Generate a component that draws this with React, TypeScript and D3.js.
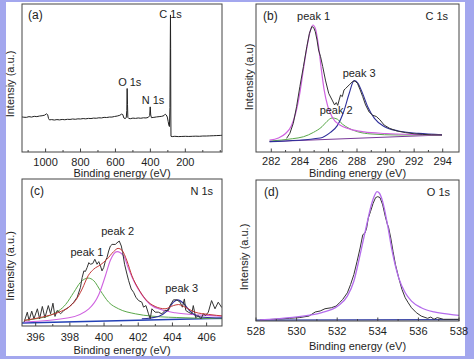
import React from 'react';
import * as d3 from 'd3';

type P = [number, number];

// ---------- (a) survey ----------
const surveyData: P[] = [
  [1135, 23.7], [1125, 23.5], [1110, 23.4], [1095, 23.9], [1080, 23.6], [1065, 24.1], [1050, 23.9], [1035, 24.3], [1020, 24.5],
  [1005, 24.9], [995, 25.8], [988, 25.2], [983, 22.6], [978, 21.7], [965, 21.9], [950, 21.6], [935, 21.9],
  [920, 21.7], [905, 22.0], [890, 21.8], [875, 22.1], [860, 22.0], [845, 22.3], [830, 22.1], [815, 22.4],
  [800, 22.3], [785, 22.6], [770, 22.4], [755, 22.7], [740, 22.6], [725, 22.9], [710, 22.8], [695, 23.1],
  [680, 23.0], [665, 23.4], [650, 23.3], [635, 23.6], [620, 23.6], [605, 24.0], [590, 24.3], [575, 24.8],
  [565, 25.6], [558, 25.3], [552, 23.0], [545, 22.6], [538, 23.2], [535, 28], [533, 42.9], [531, 32],
  [529, 23.4], [524, 22.7], [515, 22.5], [500, 22.9], [485, 22.7], [470, 23.0], [455, 22.8], [440, 23.1],
  [425, 23.0], [412, 23.4], [404, 24.5], [401, 30.5], [398, 25], [394, 23.2], [380, 23.4], [365, 23.7],
  [350, 23.9], [335, 24.1], [322, 24.6], [315, 25.6], [309, 25.0], [303, 23.6], [298, 20.5], [294, 18.0],
  [291, 17.2], [288, 30], [286, 75], [285, 92.6], [284, 70], [283, 25], [282, 10.6], [275, 10.4],
  [260, 10.6], [240, 10.4], [220, 10.5], [200, 10.6], [180, 10.5], [160, 10.6], [140, 10.7], [120, 10.6],
  [100, 10.8], [80, 10.8], [60, 10.9], [40, 11.0], [20, 11.1], [0, 11.2], [-10, 11.3],
];

// ---------- (b) C 1s ----------
const c1sRaw: P[] = [
  [283.07, 9.2], [283.3, 12.6], [283.54, 19.4], [283.77, 30.6], [284.0, 44.1], [284.25, 57.7], [284.49, 71.2],
  [284.67, 80.2], [284.84, 84.7], [284.96, 84.2], [285.08, 81.3], [285.2, 75.7], [285.31, 68.9], [285.45, 64.4],
  [285.6, 57.7], [285.79, 48.6], [286.02, 39.6], [286.26, 35.1], [286.43, 31.8], [286.55, 33.4], [286.65, 31.5],
  [286.75, 35.1], [286.85, 38.5], [286.97, 37.4], [287.09, 41.9], [287.21, 43.0], [287.45, 45.3], [287.68, 47.5],
  [287.85, 48.0], [288.03, 46.4], [288.2, 42.5], [288.4, 37.4], [288.6, 31.8], [288.85, 27.0], [289.1, 24.8],
  [289.35, 24.0], [289.6, 21.8], [289.9, 18.2], [290.3, 15.9], [290.8, 14.2], [291.4, 13.1], [292.0, 12.3],
  [292.6, 11.9], [293.2, 11.6], [293.95, 11.5],
];
const c1sPeak1: P[] = [
  [281.88, 8.0], [282.5, 9.5], [283.0, 12.5], [283.4, 17.5], [283.7, 26], [284.0, 40], [284.25, 56], [284.5, 71],
  [284.72, 81.5], [284.91, 85.8], [285.1, 83.0], [285.3, 72], [285.5, 56], [285.7, 42], [285.95, 31], [286.3, 23],
  [286.8, 18.2], [287.5, 15.5], [288.5, 13.6], [290.0, 12.5], [292.0, 11.8], [293.95, 11.5],
];
const c1sPeak2: P[] = [
  [281.88, 7.4], [283.5, 9.0], [284.25, 10.3], [284.96, 13.3], [285.55, 17.1], [285.9, 20.7], [286.26, 23.0],
  [286.62, 22.2], [286.97, 18.9], [287.44, 16.0], [288.04, 13.7], [288.98, 12.2], [290.88, 11.5], [293.95, 11.5],
];
const c1sPeak3: P[] = [
  [281.88, 7.0], [285.43, 9.5], [286.14, 13.3], [286.62, 17.8], [287.09, 27.9], [287.44, 39.2], [287.8, 48.2],
  [288.04, 46.8], [288.39, 39.6], [288.75, 30.6], [289.22, 22.7], [289.93, 17.1], [290.88, 14.2], [292.3, 12.6],
  [293.95, 11.7],
];
const c1sBackground: P[] = [[281.88, 7.0], [293.95, 11.5]];

// ---------- (c) N 1s ----------
const n1sRaw: P[] = [
  [395.32, 2.7], [395.42, 6.1], [395.51, 9.4], [395.61, 3.8], [395.77, 10.1], [395.9, 4.9], [396.1, 11.7],
  [396.23, 4.9], [396.39, 13.3], [396.54, 5.6], [396.74, 13.9], [396.87, 8.3], [397.01, 15.5], [397.13, 6.5],
  [397.26, 10.6], [397.46, 8.3], [397.65, 10.6], [397.94, 12.8], [398.23, 16.2], [398.43, 19.6], [398.62, 26.3],
  [398.72, 33.0], [398.82, 37.5], [398.91, 37.1], [399.01, 39.8], [399.11, 43.1], [399.2, 42.0], [399.34, 42.5],
  [399.46, 45.4], [399.59, 42.0], [399.69, 43.8], [399.79, 40.9], [399.88, 37.5], [399.98, 39.8], [400.08, 44.3],
  [400.17, 46.5], [400.27, 51.0], [400.37, 54.4], [400.47, 55.5], [400.66, 55.5], [400.76, 56.6], [400.89, 57.8],
  [401.01, 54.4], [401.09, 49.9], [401.2, 42.0], [401.34, 35.3], [401.44, 30.8], [401.59, 25.2], [401.73, 22.9],
  [401.86, 19.6], [402.02, 17.3], [402.21, 16.2], [402.31, 12.8], [402.45, 13.9], [402.6, 8.3], [402.7, 4.9],
  [402.8, 11.7], [402.99, 9.4], [403.18, 9.4], [403.38, 8.3], [403.57, 10.6], [403.77, 10.6], [403.86, 13.9],
  [404.06, 17.8], [404.25, 17.8], [404.45, 16.2], [404.58, 12.8], [404.7, 18.4], [404.78, 10.6], [404.93, 9.4],
  [405.13, 8.3], [405.22, 13.9], [405.36, 5.6], [405.51, 7.2], [405.67, 4.9], [405.81, 8.3], [405.94, 7.2],
  [406.1, 9.4], [406.29, 17.3], [406.49, 11.7], [406.68, 16.2], [406.87, 12.8], [407.07, 13.9],
];
const n1sEnvelope: P[] = [
  [395.32, 3.8], [396.39, 6.1], [397.36, 9.4], [397.94, 12.8], [398.33, 17.3], [398.72, 25.2], [399.07, 34.2],
  [399.4, 38.7], [399.79, 41.6], [400.17, 45.4], [400.56, 50.6], [400.82, 52.8], [401.05, 51.5], [401.34, 44.3],
  [401.63, 34.2], [402.02, 25.2], [402.41, 18.4], [402.99, 13.3], [403.57, 11.7], [404.06, 13.9], [404.35, 14.6],
  [404.74, 12.8], [405.32, 9.4], [406.1, 7.9], [407.07, 6.7],
];
const n1sPeak1: P[] = [
  [395.32, 3.8], [396.0, 4.9], [396.97, 7.9], [397.75, 14.6], [398.23, 22.9], [398.62, 29.7], [399.07, 32.6],
  [399.4, 30.8], [399.79, 24.0], [400.27, 16.2], [400.85, 11.7], [401.83, 8.3], [402.8, 6.7], [404.74, 5.6],
  [407.07, 4.9],
];
const n1sPeak2: P[] = [
  [395.32, 2.7], [397.94, 5.6], [399.11, 11.7], [399.69, 21.3], [400.08, 34.2], [400.37, 44.7], [400.76, 50.6],
  [401.15, 47.6], [401.44, 38.7], [401.83, 28.5], [402.21, 21.3], [402.7, 14.6], [403.38, 11.0], [404.16, 9.0],
  [405.71, 7.4], [407.07, 6.5],
];
const n1sPeak3: P[] = [
  [402.21, 4.9], [403.18, 6.5], [403.67, 10.1], [404.06, 16.2], [404.31, 17.8], [404.64, 15.5], [405.03, 10.1],
  [405.51, 6.5], [406.29, 5.6], [407.07, 5.4],
];
const n1sBackground: P[] = [[395.2, 2.0], [407.1, 5.4]];

// ---------- (d) O 1s ----------
const o1sRaw: P[] = [
  [528.2, 0.7], [528.87, 1.2], [529.66, 1.9], [530.13, 2.4], [530.61, 3.5], [530.92, 6.4], [531.16, 7.1],
  [531.4, 8.7], [531.71, 9.4], [531.95, 10.6], [532.11, 12.9], [532.27, 15.3], [532.5, 20.0], [532.66, 25.9],
  [532.82, 32.9], [532.98, 42.4], [533.13, 51.8], [533.26, 61.2], [533.37, 62.4], [533.45, 65.9], [533.53, 72.9],
  [533.64, 77.6], [533.77, 83.5], [533.89, 87.5], [534.0, 88.2], [534.11, 87.5], [534.24, 82.4], [534.37, 74.1],
  [534.48, 68.2], [534.52, 67.1], [534.64, 58.8], [534.75, 49.4], [534.87, 40.0], [535.03, 30.6], [535.19, 22.4],
  [535.35, 16.5], [535.5, 12.9], [535.66, 9.4], [535.9, 5.9], [536.14, 3.5], [536.45, 1.9], [536.61, 2.8],
  [536.77, 1.2], [536.93, 2.4], [537.24, 1.2], [537.72, 1.2], [538.0, 1.2],
];
const o1sFit: P[] = [
  [528.2, 0.7], [529.66, 2.4], [531.24, 5.9], [532.03, 10.6], [532.5, 17.6], [532.82, 28.2], [533.13, 47.1],
  [533.45, 68.2], [533.68, 82.4], [533.85, 89.4], [533.96, 91.8], [534.08, 90.6], [534.24, 84.7], [534.48, 68.2],
  [534.71, 49.4], [535.03, 30.6], [535.35, 20.0], [535.66, 14.1], [536.14, 9.4], [536.77, 6.4], [537.56, 4.7],
  [538.0, 4.0],
];
const o1sBackground: P[] = [[528.0, 0.6], [538.0, 1.0]];

// ---------- ticks ----------
const aTicks = [1000, 800, 600, 400, 200];
const aMinor = [1100, 900, 700, 500, 300, 100, 0];
const bTicks = [282, 284, 286, 288, 290, 292, 294];
const bMinor = [283, 285, 287, 289, 291, 293];
const cTicks = [396, 398, 400, 402, 404, 406];
const cMinor = [397, 399, 401, 403, 405];
const dTicks = [528, 530, 532, 534, 536, 538];
const dMinor = [529, 531, 533, 535, 537];

const FONT = "'Liberation Sans', Arial, Helvetica, sans-serif";
const TXT = '#1e1e1e';

interface Series { data: P[]; color: string; width?: number; smooth?: boolean }
interface Note { text: string; x: number; v: number; anchor?: string; size?: number }
interface Corner { text: string; side: 'left' | 'right'; dx: number; v: number; size?: number }

interface PanelProps {
  id: string;
  box: { x0: number; x1: number; y0: number; y1: number };
  xDomain: [number, number];
  majors: number[];
  minors: number[];
  series: Series[];
  notes: Note[];
  corners: Corner[];
  yTitle: string;
  yTitleX: number;
  yTitleY: number;
  tickBase: number;
  titleBase: number;
}

function Panel(p: PanelProps) {
  const { box } = p;
  const x = d3.scaleLinear().domain(p.xDomain).range([box.x0, box.x1]);
  const y = d3.scaleLinear().domain([0, 100]).range([box.y1, box.y0]);
  const lin = d3.line<P>().x(d => x(d[0])).y(d => y(d[1]));
  const smooth = d3.line<P>().x(d => x(d[0])).y(d => y(d[1])).curve(d3.curveMonotoneX);
  const cx = (box.x0 + box.x1) / 2;
  return (
    <g>
      <defs>
        <clipPath id={`clip-${p.id}`}>
          <rect x={box.x0} y={box.y0} width={box.x1 - box.x0} height={box.y1 - box.y0} />
        </clipPath>
      </defs>
      <g clipPath={`url(#clip-${p.id})`}>
        {p.series.map((s, i) => (
          <path key={i} d={(s.smooth ? smooth : lin)(s.data) || ''} fill="none" stroke={s.color}
            strokeWidth={s.width ?? 1} strokeLinejoin="round" />
        ))}
      </g>
      <rect x={box.x0} y={box.y0} width={box.x1 - box.x0} height={box.y1 - box.y0}
        fill="none" stroke="#444" strokeWidth={1} />
      {p.majors.map(t => (
        <line key={`M${t}`} x1={x(t)} x2={x(t)} y1={box.y1} y2={box.y1 - 3.5} stroke="#444" strokeWidth={1} />
      ))}
      {p.minors.map(t => (
        <line key={`m${t}`} x1={x(t)} x2={x(t)} y1={box.y1} y2={box.y1 - 2} stroke="#444" strokeWidth={1} />
      ))}
      {p.majors.map(t => (
        <text key={`L${t}`} x={x(t)} y={p.tickBase} textAnchor="middle" fontSize={11}
          fontFamily={FONT} fill={TXT}>{t}</text>
      ))}
      <text x={cx} y={p.titleBase} textAnchor="middle" fontSize={11} fontFamily={FONT} fill={TXT}>
        Binding energy (eV)
      </text>
      <text transform={`translate(${p.yTitleX},${p.yTitleY}) rotate(-90)`} textAnchor="middle"
        fontSize={11} fontFamily={FONT} fill={TXT}>{p.yTitle}</text>
      {p.notes.map((n, i) => (
        <text key={`n${i}`} x={x(n.x)} y={y(n.v)} textAnchor={n.anchor ?? 'middle'} fontSize={n.size ?? 11}
          fontFamily={FONT} fill={TXT}>{n.text}</text>
      ))}
      {p.corners.map((c, i) => (
        <text key={`c${i}`} x={c.side === 'left' ? box.x0 + c.dx : box.x1 - c.dx} y={y(c.v)}
          textAnchor={c.side === 'left' ? 'start' : 'end'} fontSize={c.size ?? 12}
          fontFamily={FONT} fill={TXT}>{c.text}</text>
      ))}
    </g>
  );
}

export default function App() {
  const W = 474, H = 359;
  return (
    <svg width={W} height={H} style={{ position: 'absolute', left: 0, top: 0 }}>
      <rect x={0} y={0} width={W} height={H} fill="#a3a7ee" />
      <rect x={6} y={2} width={459} height={354} fill="#ffffff" />
      <Panel id="a" box={{ x0: 22, x1: 222, y0: 4, y1: 152 }} xDomain={[1135, -10]}
        majors={aTicks} minors={aMinor}
        series={[{ data: surveyData, color: '#222', width: 1 }]}
        notes={[
          { text: 'C 1s', x: 285, v: 90.5 },
          { text: 'O 1s', x: 518, v: 44.6 },
          { text: 'N 1s', x: 385, v: 32.4 },
        ]}
        corners={[{ text: '(a)', side: 'left', dx: 6, v: 89.6 }]}
        yTitle="Intensiy (a.u.)" yTitleX={14} yTitleY={84} tickBase={166} titleBase={177} />
      <Panel id="b" box={{ x0: 256, x1: 459, y0: 4, y1: 152 }} xDomain={[280.93, 295.14]}
        majors={bTicks} minors={bMinor}
        series={[
          { data: c1sBackground, color: '#7a3a9a', width: 1 },
          { data: c1sPeak2, color: '#5aa84a', width: 1, smooth: true },
          { data: c1sPeak3, color: '#2e2e9a', width: 1.1, smooth: true },
          { data: c1sPeak1, color: '#cf62e0', width: 1.2, smooth: true },
          { data: c1sRaw, color: '#333', width: 1 },
        ]}
        notes={[
          { text: 'peak 1', x: 284.96, v: 89.2 },
          { text: 'peak 3', x: 288.15, v: 50.7 },
          { text: 'peak 2', x: 286.54, v: 25.7 },
        ]}
        corners={[
          { text: '(b)', side: 'left', dx: 7, v: 89.2 },
          { text: 'C 1s', side: 'right', dx: 11, v: 89.2, size: 11 },
        ]}
        yTitle="Intensity (a.u)" yTitleX={253} yTitleY={77} tickBase={165} titleBase={177} />
      <Panel id="c" box={{ x0: 22, x1: 222, y0: 179, y1: 326 }} xDomain={[395.2, 406.9]}
        majors={cTicks} minors={cMinor}
        series={[
          { data: n1sBackground, color: '#2340b5', width: 1.5 },
          { data: n1sPeak1, color: '#5aa84a', width: 1, smooth: true },
          { data: n1sPeak2, color: '#cf62e0', width: 1.1, smooth: true },
          { data: n1sPeak3, color: '#2e2e9a', width: 1.1, smooth: true },
          { data: n1sRaw, color: '#333', width: 1 },
          { data: n1sEnvelope, color: '#c23838', width: 1, smooth: true },
        ]}
        notes={[
          { text: 'peak 2', x: 400.8, v: 62.2 },
          { text: 'peak 1', x: 399.0, v: 47.6 },
          { text: 'peak 3', x: 404.54, v: 22.9 },
        ]}
        corners={[
          { text: '(c)', side: 'left', dx: 8, v: 88.8 },
          { text: 'N 1s', side: 'right', dx: 9, v: 88.8, size: 11 },
        ]}
        yTitle="Intensity (a.u.)" yTitleX={14} yTitleY={266} tickBase={341} titleBase={354} />
      <Panel id="d" box={{ x0: 256, x1: 459, y0: 180, y1: 321 }} xDomain={[528, 538]}
        majors={dTicks} minors={dMinor}
        series={[
          { data: o1sBackground, color: '#2e3aa0', width: 1.3 },
          { data: o1sRaw, color: '#333', width: 1 },
          { data: o1sFit, color: '#b46cec', width: 1.3, smooth: true },
        ]}
        notes={[]}
        corners={[
          { text: '(d)', side: 'left', dx: 8, v: 88.9 },
          { text: 'O 1s', side: 'right', dx: 9, v: 88.9, size: 11 },
        ]}
        yTitle="Intensiy (a.u.)" yTitleX={248} yTitleY={257} tickBase={335} titleBase={350} />
    </svg>
  );
}
